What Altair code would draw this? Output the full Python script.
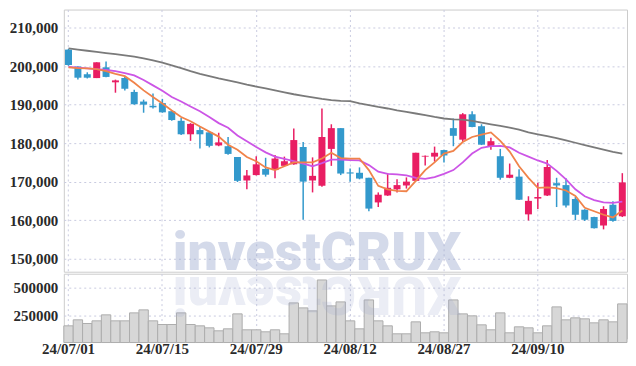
import altair as alt
import pandas as pd

dates = [
    "24/07/01", "24/07/02", "24/07/03", "24/07/04", "24/07/05",
    "24/07/08", "24/07/09", "24/07/10", "24/07/11", "24/07/12",
    "24/07/15", "24/07/16", "24/07/17", "24/07/18", "24/07/19",
    "24/07/22", "24/07/23", "24/07/24", "24/07/25", "24/07/26",
    "24/07/29", "24/07/30", "24/07/31", "24/08/01", "24/08/02",
    "24/08/05", "24/08/06", "24/08/07", "24/08/08", "24/08/09",
    "24/08/12", "24/08/13", "24/08/14", "24/08/16", "24/08/19",
    "24/08/20", "24/08/21", "24/08/22", "24/08/23", "24/08/26",
    "24/08/27", "24/08/28", "24/08/29", "24/08/30", "24/09/02",
    "24/09/03", "24/09/04", "24/09/05", "24/09/06", "24/09/09",
    "24/09/10", "24/09/11", "24/09/12", "24/09/13", "24/09/19",
    "24/09/20", "24/09/23", "24/09/24", "24/09/25", "24/09/26",
]
opens = [
    204300, 199900, 197900, 196900, 199700, 195800, 196900, 193300, 190800, 189700,
    190400, 188300, 185800, 182300, 183400, 182800, 179400, 179200, 176400, 170300,
    171700, 173300, 173000, 174100, 174500, 179000, 170300, 168900, 178500, 183900,
    172400, 172300, 171000, 164600, 166400, 168000, 169000, 170200, 176500, 176500,
    178200, 183900, 180900, 187500, 184400, 179000, 176600, 171000, 171300, 161500,
    165600, 166400, 169600, 169100, 165500, 162700, 160800, 158600, 164000, 161000,
]
highs = [
    204500, 200000, 198400, 201000, 201200, 196500, 197200, 193900, 191300, 192900,
    191500, 188500, 186500, 185200, 184400, 183100, 182700, 181600, 176400, 173000,
    176600, 176200, 176900, 176500, 183800, 180300, 176300, 189000, 184900, 183900,
    173400, 173700, 171000, 167200, 172200, 170600, 171100, 177500, 176800, 179100,
    178300, 186400, 187800, 188300, 184900, 181400, 178500, 174700, 173200, 166200,
    169700, 175600, 171000, 170900, 166000, 162800, 160900, 163600, 164900, 172200,
]
lows = [
    200100, 196500, 196800, 196900, 197100, 193100, 193700, 190000, 187900, 189000,
    187900, 185800, 182100, 180600, 178600, 178900, 179200, 177000, 169900, 168000,
    171600, 171300, 170900, 174000, 174400, 160100, 167200, 168700, 174100, 171700,
    170000, 170600, 162300, 163400, 166300, 167200, 168200, 170100, 174200, 175200,
    175000, 179200, 180300, 184100, 179500, 178300, 170500, 170900, 165200, 159900,
    162900, 166300, 163400, 163300, 160000, 159800, 157800, 157600, 159600, 160800,
]
closes = [
    200300, 197000, 197000, 201000, 197200, 196300, 194100, 190100, 190000, 189300,
    188000, 186000, 182300, 185000, 182300, 179300, 180200, 177200, 170200, 171600,
    174500, 171800, 176000, 175300, 180800, 170000, 171500, 181600, 183900, 172100,
    172100, 170800, 163000, 166600, 168400, 169100, 170000, 177500, 176700, 177500,
    176800, 181900, 187500, 184200, 179600, 180500, 171000, 171800, 165300, 165000,
    166000, 173800, 169000, 163800, 161400, 160100, 157900, 162900, 159800, 169800,
]
volumes = [
    153000, 207800, 174300, 198600, 253400, 198600, 198600, 271600, 299000, 198600,
    165100, 165100, 271600, 165100, 153000, 134800, 107400, 125600, 262500, 116500,
    116500, 98300, 116500, 80000, 362900, 317200, 289900, 572700, 335500, 372000,
    198600, 125600, 390200, 198600, 153000, 80000, 80000, 189500, 89100, 98300,
    89100, 390200, 262500, 244300, 162100, 116500, 271600, 89100, 143900, 134800,
    89100, 153000, 326400, 207800, 226000, 216900, 180400, 207800, 189500, 353700,
]
ma5 = [
    199700, 199500, 199400, 199200, 198700, 198000, 197400, 195700, 193700, 192000,
    190300, 188500, 186800, 185700, 184300, 183000, 181700, 179600, 178300, 176400,
    175300, 173700, 173000, 174000, 175000, 175000, 175000, 176000, 177500, 176100,
    176000, 176000, 173000, 168900, 168000, 167600, 167500, 170200, 173000, 175000,
    177300, 178000, 180300, 181600, 182200, 182800, 180600, 177800, 174000, 171000,
    168400, 168500, 168300, 167700, 166300, 163200, 162300, 161400, 160700, 162500,
]
ma20 = [
    199800, 199600, 199400, 199200, 199000, 198700, 198200, 197600, 196400, 195000,
    193600, 192000, 190800, 189500, 188300, 186800, 185200, 184000, 182000, 180500,
    179000, 177600, 176500, 175900, 175300, 174700, 174000, 174800, 175700, 175700,
    175600, 175500, 174300, 172600, 172000, 171900, 171600, 171000, 170700, 171200,
    172000, 173000, 175000, 177300, 178800, 179200, 179300, 178900, 177500, 176500,
    175500, 174700, 172800, 170600, 168000, 166200, 165200, 164600, 164500, 164800,
]
ma60 = [
    204600, 204300, 204000, 203700, 203400, 203100, 202800, 202500, 202000, 201500,
    200900, 200200, 199500, 198700, 198000, 197400, 196800, 196300, 195800, 195200,
    194700, 194200, 193700, 193200, 192700, 192300, 191900, 191500, 191200, 191000,
    190900, 190300, 189900, 189400, 189000, 188500, 188100, 187700, 187300, 186800,
    186400, 186200, 186100, 185800, 185300, 184900, 184500, 184000, 183500, 182800,
    182300, 181800, 181300, 180700, 180100, 179500, 178900, 178300, 177700, 177300,
]
price_ticks = [150000, 160000, 170000, 180000, 190000, 200000, 210000]
volume_ticks = [250000, 500000]
date_ticks = ["24/07/01", "24/07/15", "24/07/29", "24/08/12", "24/08/27", "24/09/10"]
watermark = ["investCRUX"]

df = pd.DataFrame({
    "d": dates, "o": opens, "h": highs, "l": lows, "c": closes, "v": volumes,
    "ma5": ma5, "ma20": ma20, "ma60": ma60,
})
df["dir"] = ["up" if c >= o else "down" for o, c in zip(opens, closes)]

FONT = "Liberation Sans Narrow"
GRID = "#c9cbe0"
W = 565

color = alt.Color("dir:N", scale=alt.Scale(domain=["up", "down"], range=["#e91e63", "#3399cc"]), legend=None)

xscale = alt.Scale(paddingInner=0, paddingOuter=0)
x_top = alt.X("d:O", sort=None, scale=xscale, title=None,
              axis=alt.Axis(values=date_ticks, labels=False, ticks=False, domain=False, grid=True,
                            gridDash=[2, 3], gridColor=GRID, bandPosition=0.5))
x_bot = alt.X("d:O", sort=None, scale=xscale, title=None,
              axis=alt.Axis(values=date_ticks, labelAngle=0, ticks=False, tickSize=0, domain=False, grid=True,
                            gridDash=[2, 3], gridColor=GRID, bandPosition=0.5, labelPadding=3))

yscale = alt.Scale(domain=[146600, 214700], nice=False, zero=False)
yaxis = alt.Axis(values=price_ticks, format=",d", ticks=False, tickSize=0, domain=False, grid=True,
                 gridDash=[2, 3], gridColor=GRID, labelPadding=6, minExtent=50, maxExtent=50)

base = alt.Chart(df).encode(x=x_top)
wicks = base.mark_rule(strokeWidth=1.5).encode(
    y=alt.Y("l:Q", scale=yscale, axis=yaxis, title=None), y2="h:Q", color=color)
bodies = base.mark_bar(size=7).encode(y=alt.Y("o:Q", scale=yscale, title=None), y2="c:Q", color=color)
line60 = base.mark_line(color="#7a7a7a", strokeWidth=1.8).encode(y=alt.Y("ma60:Q", scale=yscale))
line20 = base.mark_line(color="#cc55e6", strokeWidth=1.8).encode(y=alt.Y("ma20:Q", scale=yscale))
line5 = base.mark_line(color="#f0834a", strokeWidth=1.8).encode(y=alt.Y("ma5:Q", scale=yscale))

wm_df = pd.DataFrame({"t": watermark})
wm = alt.Chart(wm_df).mark_text(font="Roboto", fontWeight=900, fontSize=54, color="#9aa6cc",
                                opacity=0.42, align="center", baseline="alphabetic", clip=True).encode(
    text="t:N", x=alt.value(254), y=alt.value(261))

price = alt.layer(wicks, bodies, line60, line20, line5, wm).properties(width=W, height=263)

vscale = alt.Scale(domain=[37000, 630000], nice=False, zero=False)
vaxis = alt.Axis(values=volume_ticks, format="d", ticks=False, tickSize=0, domain=False, grid=True,
                 gridDash=[2, 3], gridColor=GRID, labelPadding=6, minExtent=50, maxExtent=50)
vbars = alt.Chart(df).mark_bar(fill="#d7d7d7", stroke="#adadad", strokeWidth=1).encode(
    x=x_bot, y=alt.Y("v:Q", scale=vscale, axis=vaxis, title=None), y2=alt.value(65))
wm_rev = pd.DataFrame({"t": [watermark[0][::-1]]})
refl = alt.Chart(wm_rev).mark_text(font="Roboto", fontWeight=900, fontSize=54, color="#9aa6cc",
                                   opacity=0.2, align="center", baseline="alphabetic", angle=180,
                                   clip=True).encode(
    text="t:N", x=alt.value(254), y=alt.value(3))
volume = alt.layer(vbars, refl).properties(width=W, height=65)

chart = alt.vconcat(price, volume, spacing=0).properties(
    padding={"left": 0, "top": 0, "right": 0, "bottom": 0}
).configure_view(stroke="#cccccc").configure_axis(
    labelFont=FONT, labelFontSize=15, labelColor="#2a2a2a", labelFontWeight="bold"
)

chart.save("out.html", embed_options={"renderer": "svg", "actions": False})
